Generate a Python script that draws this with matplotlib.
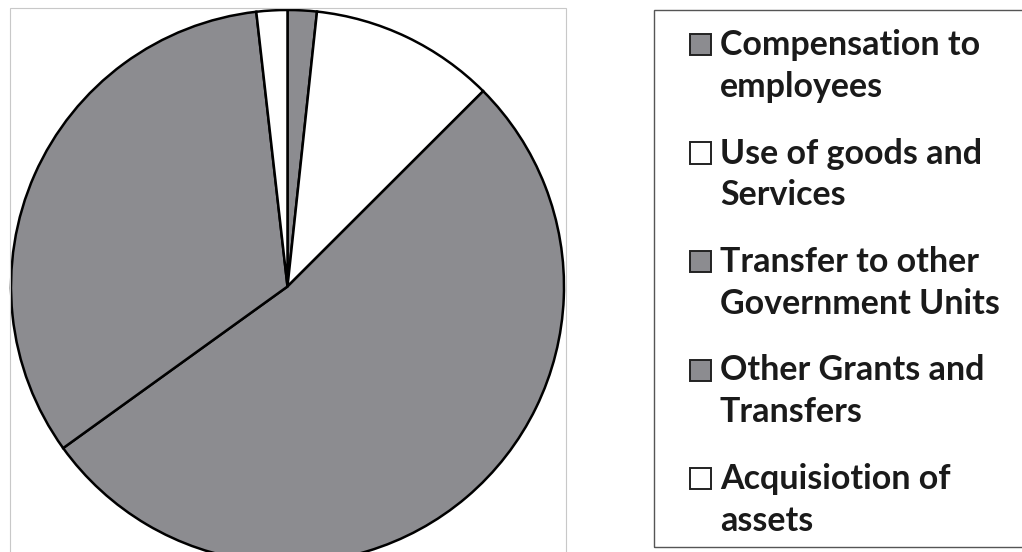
import matplotlib.pyplot as plt
from matplotlib.patches import Rectangle

labels = ["Compensation to\nemployees", "Use of goods and\nServices",
          "Transfer to other\nGovernment Units", "Other Grants and\nTransfers",
          "Acquisiotion of\nassets"]
shares = [1.7, 10.8, 52.5, 33.1, 1.8]
colors = ["#8c8c90", "#ffffff", "#8c8c90", "#8c8c90", "#ffffff"]

W, H = 1022, 552
plt.rcParams['font.family'] = ['Lato', 'DejaVu Sans']
fig = plt.figure(figsize=(W / 100, H / 100), dpi=100)

# pie placement in pixels
cx, cy, r = 287.5, 286.5, 276.5
ax = fig.add_axes([(cx - r) / W, (H - cy - r) / H, 2 * r / W, 2 * r / H])
wedges, _ = ax.pie(shares, colors=colors, startangle=90, counterclock=False,
                   radius=1, wedgeprops=dict(edgecolor='black', linewidth=1.8))
for w in wedges:
    w.set_clip_on(False)
ax.set_xlim(-1, 1)
ax.set_ylim(-1, 1)
ax.axis('off')


def px_rect(x0, y0, x1, y1, **kw):
    # rectangle given in image pixels (y down)
    return Rectangle((x0 / W, 1 - y1 / H), (x1 - x0) / W, (y1 - y0) / H,
                     transform=fig.transFigure, **kw)


# faint frames of the scanned page
fig.add_artist(px_rect(10, 8, 566, 560, fill=False, edgecolor='#c8c8c8', linewidth=0.8))
fig.add_artist(px_rect(654, 10, 1030, 547, fill=False, edgecolor='#555555', linewidth=1.0))

# legend drawn by hand so markers sit on the first text line
for i, (lab, col) in enumerate(zip(labels, colors)):
    base = 55 + 108.5 * i
    fig.add_artist(px_rect(690, base - 21, 711, base, facecolor=col,
                           edgecolor='#222222', linewidth=1.4))
    for j, line in enumerate(lab.split("\n")):
        fig.text(720 / W, 1 - (base + 42 * j) / H, line, fontsize=24.5,
                 fontweight='bold', color='#1a1a1a', va='baseline', ha='left')

fig.savefig("out.png", dpi=100)
